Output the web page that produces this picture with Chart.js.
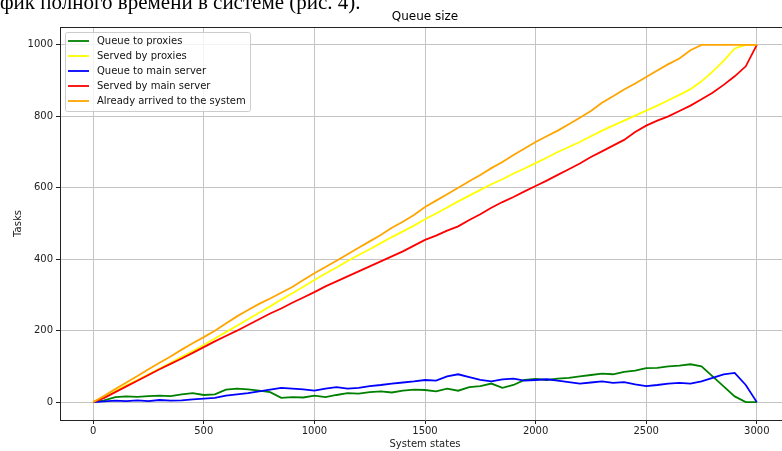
<!DOCTYPE html>
<html>
<head>
<meta charset="utf-8">
<script src="https://cdn.jsdelivr.net/npm/chart.js@4.4.0/dist/chart.umd.min.js"></script>
<style>
  body { margin: 0; background: #fff; overflow: hidden; width: 782px; height: 451px; position: relative; }
  #wrap { position: absolute; left: 0; top: 0; width: 800px; height: 451px; }
  #caption { position: absolute; left: 0; top: -8px; font-family: "Liberation Serif", serif; font-size: 21px; line-height: 21px; color: #000; white-space: nowrap; z-index: 2; }
</style>
</head>
<body>
<div id="caption">фик полного времени в системе (рис. 4).</div>
<div id="wrap"><canvas id="chart"></canvas></div>
<script>
// system states (x), every 50 steps
const states = [0, 50, 100, 150, 200, 250, 300, 350, 400, 450, 500, 550, 600, 650, 700, 750, 800, 850, 900, 950,
  1000, 1050, 1100, 1150, 1200, 1250, 1300, 1350, 1400, 1450, 1500, 1550, 1600, 1650, 1700, 1750, 1800, 1850, 1900, 1950,
  2000, 2050, 2100, 2150, 2200, 2250, 2300, 2350, 2400, 2450, 2500, 2550, 2600, 2650, 2700, 2750, 2800, 2850, 2900, 2950, 3000];

const queueProxies = [0, 5, 14, 16, 15, 17, 18, 17, 22, 25, 20, 22, 35, 38, 36, 32, 28, 12, 14, 13,
  18, 14, 20, 25, 24, 28, 30, 27, 32, 35, 34, 30, 38, 32, 42, 45, 52, 40, 48, 62,
  65, 62, 66, 68, 72, 76, 80, 78, 85, 88, 95, 96, 100, 102, 106, 100, 72, 44, 16, 0, 0];

const servedProxies = [0, 15, 31, 47, 62, 78, 94, 110, 127, 143, 160, 178, 196, 214, 232, 250, 268, 287, 305, 323,
  342, 360, 377, 395, 412, 428, 445, 462, 478, 494, 512, 528, 545, 562, 578, 594, 610, 624, 640, 654,
  669, 684, 700, 714, 728, 744, 760, 774, 788, 802, 816, 830, 845, 860, 876, 898, 925, 955, 990, 1000, 1000];

const queueMain = [0, 2, 4, 3, 5, 3, 6, 4, 5, 8, 10, 12, 18, 22, 25, 30, 35, 40, 38, 36,
  32, 38, 42, 38, 40, 45, 48, 52, 55, 58, 62, 60, 72, 78, 70, 62, 58, 64, 66, 60,
  62, 64, 60, 56, 52, 55, 58, 54, 56, 50, 45, 48, 52, 54, 52, 58, 68, 78, 82, 48, 0];

const servedMain = [0, 12, 28, 44, 60, 76, 92, 107, 122, 138, 154, 170, 185, 200, 216, 232, 248, 262, 278, 293,
  308, 324, 338, 352, 366, 380, 394, 408, 422, 438, 454, 466, 480, 492, 510, 526, 544, 560, 574, 590,
  605, 620, 636, 652, 668, 686, 702, 718, 734, 756, 774, 788, 800, 815, 830, 848, 866, 888, 912, 940, 1000];

const arrived = [0, 18, 37, 55, 73, 92, 110, 128, 147, 165, 182, 200, 220, 240, 258, 275, 290, 306, 322, 342,
  361, 378, 396, 414, 432, 450, 468, 488, 505, 524, 546, 564, 582, 600, 618, 636, 655, 672, 692, 710,
  728, 744, 760, 778, 796, 815, 838, 856, 875, 892, 910, 928, 946, 962, 985, 1000, 1000, 1000, 1000, 1000, 1000];

const seriesNames = ["Queue to proxies", "Served by proxies", "Queue to main server", "Served by main server", "Already arrived to the system"];
const seriesColors = ["#008000", "#ffff00", "#0000ff", "#ff0000", "#ffa500"];
const xTicks = [0, 500, 1000, 1500, 2000, 2500, 3000];
const yTicks = [0, 200, 400, 600, 800, 1000];

const allSeries = [queueProxies, servedProxies, queueMain, servedMain, arrived];
const FONT = "DejaVu Sans";

const datasets = allSeries.map((vals, i) => ({
  label: seriesNames[i],
  data: vals.map((v, k) => ({ x: states[k], y: v })),
  borderColor: seriesColors[i],
  backgroundColor: seriesColors[i],
  borderWidth: 1.8,
  pointRadius: 0,
  tension: 0,
  order: allSeries.length - i
}));

// top/right frame, title and in-plot legend (matplotlib look)
const extras = {
  id: "extras",
  afterDraw(chart) {
    const { ctx, chartArea: a } = chart;
    ctx.save();
    ctx.strokeStyle = "#222";
    ctx.lineWidth = 1;
    ctx.beginPath();
    ctx.moveTo(a.left, a.top + 0.5);
    ctx.lineTo(a.right, a.top + 0.5);
    ctx.lineTo(a.right, a.bottom);
    ctx.stroke();

    ctx.fillStyle = "#000";
    ctx.font = "12px '" + FONT + "'";
    ctx.textAlign = "center";
    ctx.textBaseline = "middle";
    ctx.fillText("Queue size", (a.left + a.right) / 2, 17);

    // legend box
    const bx = 65, by = 32, bw = 185, bh = 79;
    ctx.fillStyle = "rgba(255,255,255,0.8)";
    ctx.strokeStyle = "#cccccc";
    ctx.beginPath();
    ctx.roundRect(bx + 0.5, by + 0.5, bw, bh, 2);
    ctx.fill();
    ctx.stroke();
    ctx.font = "10px '" + FONT + "'";
    ctx.textAlign = "left";
    chart.data.datasets.forEach((ds, i) => {
      const y = 41 + i * 15;
      ctx.strokeStyle = ds.borderColor;
      ctx.lineWidth = 1.8;
      ctx.beginPath();
      ctx.moveTo(68, y);
      ctx.lineTo(89, y);
      ctx.stroke();
      ctx.fillStyle = "#111";
      ctx.fillText(ds.label, 97, y + 0.5);
    });
    ctx.restore();
  }
};

new Chart(document.getElementById("chart"), {
  type: "line",
  data: { datasets },
  options: {
    responsive: true,
    maintainAspectRatio: false,
    animation: false,
    layout: { padding: { top: 27, right: 10, left: 0, bottom: 0 } },
    plugins: { legend: { display: false }, tooltip: { enabled: false }, title: { display: false } },
    scales: {
      x: {
        type: "linear",
        min: -150,
        max: 3150,
        afterFit: (s) => { s.height = 31; },
        afterBuildTicks: (s) => { s.ticks = xTicks.map(v => ({ value: v })); },
        grid: { color: "#c4c4c4", lineWidth: 1, tickLength: 4, tickColor: "#222" },
        border: { color: "#222", width: 1 },
        ticks: { font: { family: FONT, size: 10 }, color: "#222", padding: 1, maxRotation: 0, callback: (v) => String(v) },
        title: { display: true, text: "System states", font: { family: FONT, size: 10 }, color: "#222", padding: { top: 0, bottom: 1 } }
      },
      y: {
        min: -50,
        max: 1050,
        afterFit: (s) => { s.width = 60; },
        afterBuildTicks: (s) => { s.ticks = yTicks.map(v => ({ value: v })); },
        grid: { color: "#c4c4c4", lineWidth: 1, tickLength: 4, tickColor: "#222" },
        border: { color: "#222", width: 1 },
        ticks: { font: { family: FONT, size: 10 }, color: "#222", padding: 3, callback: (v) => String(v) },
        title: { display: true, text: "Tasks", font: { family: FONT, size: 10 }, color: "#222", padding: { top: 12, bottom: 0 } }
      }
    }
  },
  plugins: [extras]
});
</script>
</body>
</html>
